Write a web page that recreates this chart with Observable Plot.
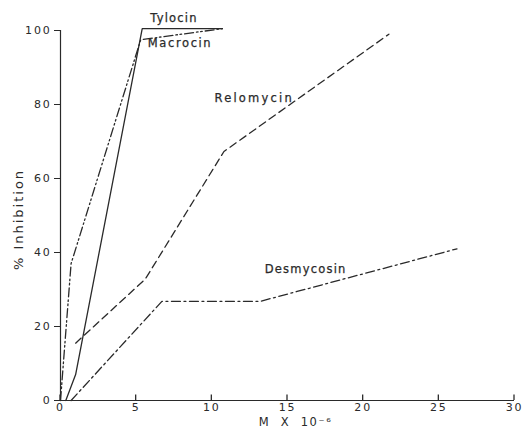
<!DOCTYPE html>
<html>
<head>
<meta charset="utf-8">
<script src="https://cdn.jsdelivr.net/npm/d3@7"></script>
<script src="https://cdn.jsdelivr.net/npm/@observablehq/plot@0.6"></script>
<style>
  body { margin: 0; background: #fff; }
  svg { font-family: "DejaVu Sans", sans-serif; }
</style>
</head>
<body>
<div id="chart"></div>
<script>
// Data (x: M x 10^-6, y: % inhibition)
const tylocin    = [[0.35, 0], [1.0, 7], [5.4, 100.5], [10.7, 100.5]];
const macrocin   = [[0, 0], [0.7, 37], [5.3, 97.5], [10.7, 100.5]];
const relomycin  = [[1.0, 15.5], [5.6, 32.8], [10.8, 67.3], [21.7, 99]];
const desmycosin = [[0.7, 0], [6.7, 26.8], [13.2, 26.8], [26.2, 41]];

const seriesNames = ["Tylocin", "Macrocin", "Relomycin", "Desmycosin"];
const seriesData = [tylocin, macrocin, relomycin, desmycosin];
const dashes = [null, "9,3,1.6,2.6,1.6,3", "7.5,4.5", "9,3.5,2,3.5"];

const xTicks = [0, 5, 10, 15, 20, 25, 30];
const yTicks = [0, 20, 40, 60, 80, 100];

// Series label anchors (data units)
const labelX = [7.5, 7.9, 12.8, 16.2];
const labelY = [103.2, 96.6, 81.8, 35.5];
const labelSpacing = [1.2, 1.2, 2.2, 1.2];

const rows = seriesNames.flatMap((name, i) =>
  seriesData[i].map(([x, y]) => ({name, x, y})));
const labels = seriesNames.map((name, i) => ({name, x: labelX[i], y: labelY[i]}));

const ink = "#2a2a2a";

const chart = Plot.plot({
  width: 524,
  height: 436,
  marginLeft: 60,
  marginRight: 10,
  marginTop: 30,
  marginBottom: 36,
  style: {fontFamily: "DejaVu Sans, sans-serif", color: ink, background: "#fff"},
  x: {domain: [0, 30]},
  y: {domain: [0, 100]},
  marks: [
    Plot.ruleX([0], {stroke: ink, strokeWidth: 1.2}),
    Plot.ruleY([0], {stroke: ink, strokeWidth: 1.2}),
    Plot.axisY({ticks: yTicks, tickSize: 6, tickPadding: 3, label: null,
      fontSize: 11, stroke: ink}),
    // x tick labels (inward tick marks are added below from the x scale)
    Plot.axisX({ticks: xTicks, tickSize: 0, tickPadding: 3, label: null, fontSize: 11}),
    ...seriesNames.map((name, i) =>
      Plot.line(rows.filter(d => d.name === name), {
        x: "x", y: "y", stroke: ink, strokeWidth: 1.3,
        strokeDasharray: dashes[i], strokeLinejoin: "miter"
      })),
    Plot.text(labels, {x: "x", y: "y", text: "name", fill: ink, fontSize: 11.5,
      stroke: ink, strokeWidth: 0.25}),
    Plot.text(["M  X  10⁻⁶"], {frameAnchor: "bottom", dy: 25, dx: 8, text: d => d,
      fill: ink, fontSize: 11.5}),
    Plot.text(["% Inhibition"], {frameAnchor: "left", textAnchor: "middle", rotate: -90, dx: -42, dy: 4,
      text: d => d, fill: ink, fontSize: 13})
  ]
});

const svg = d3.select(chart);
// inward x ticks, positioned with Plot's own scales
const xs = chart.scale("x"), ys = chart.scale("y");
const y0 = ys.apply(0);
svg.append("g").attr("stroke", ink).attr("stroke-width", 1.3)
  .selectAll("line").data(xTicks).join("line")
  .attr("x1", d => xs.apply(d)).attr("x2", d => xs.apply(d))
  .attr("y1", y0).attr("y2", y0 - 5.5);

// letter spacing (the reference uses widely spaced lettering)
svg.selectAll("text").style("letter-spacing", "1.8px");
svg.selectAll("text").each(function () {
  const t = this.textContent;
  const i = seriesNames.indexOf(t);
  if (i >= 0) d3.select(this).style("letter-spacing", labelSpacing[i] + "px");
  if (t === "% Inhibition") d3.select(this).style("letter-spacing", "2px");
  if (t.startsWith("M")) d3.select(this).style("letter-spacing", "1.6px");
});
document.getElementById("chart").appendChild(chart);
</script>
</body>
</html>
